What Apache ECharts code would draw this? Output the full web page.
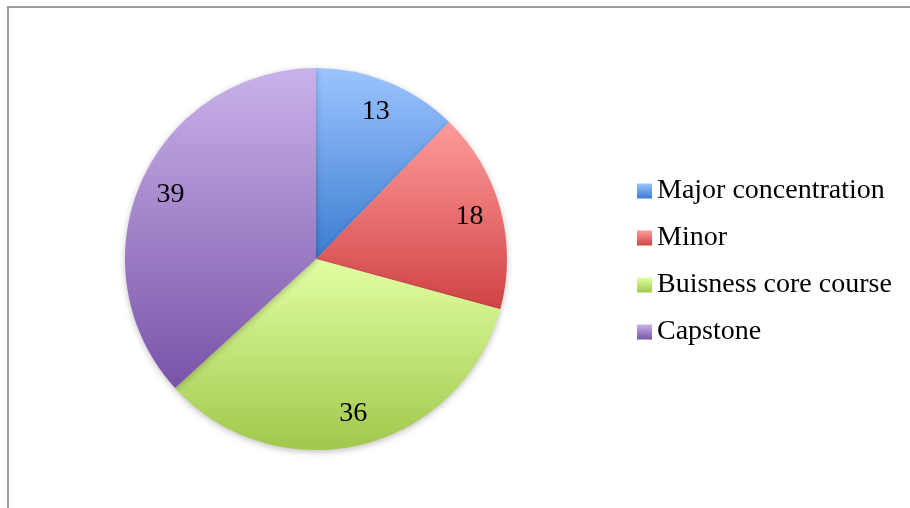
<!DOCTYPE html>
<html>
<head>
<meta charset="utf-8">
<script src="https://cdn.jsdelivr.net/npm/echarts@6/dist/echarts.min.js"></script>
<style>
  html, body { margin: 0; padding: 0; background: #fff; }
  #frame { position: absolute; left: 7px; top: 6px; width: 903px; height: 502px;
           border-left: 2px solid #9c9c9c; border-top: 2px solid #9c9c9c; }
  #main { position: absolute; left: 0; top: 0; width: 910px; height: 508px; }
</style>
</head>
<body>
<div id="frame"></div>
<div id="main"></div>
<script>
// data
var categories = ['Major concentration', 'Minor', 'Buisness core course', 'Capstone'];
var values = [13, 18, 36, 39];
// light (top) / dark (bottom) of each slice
var topColors = ['#9cc4ff', '#ff9b9b', '#e2ffa3', '#c9b2ea'];
var bottomColors = ['#3b7cd0', '#d04343', '#a0c84c', '#7a53a8'];

var myChart = echarts.init(document.getElementById('main'));
var font = '"Liberation Serif", "DejaVu Serif", serif';

function gradient(i) {
    // vertical gradient over each slice's own box, like the office charts do
    return new echarts.graphic.LinearGradient(0, 0, 0, 1, [
        { offset: 0, color: topColors[i] },
        { offset: 1, color: bottomColors[i] }
    ]);
}

var pieData = categories.map(function (name, i) {
    return { name: name, value: values[i], itemStyle: { color: gradient(i) } };
});
// same values, only used to put the numbers near the rim
var labelData = categories.map(function (name, i) {
    return { name: name, value: values[i] };
});

var option = {
    animation: false,
    legend: {
        orient: 'vertical',
        left: 632,
        top: 172,
        itemWidth: 15,
        itemHeight: 15,
        itemGap: 19,
        icon: 'rect',
        data: categories,
        selectedMode: false,
        textStyle: { fontFamily: font, fontSize: 28, color: '#000', lineHeight: 28 }
    },
    series: [
        {
            name: 'courses',
            type: 'pie',
            center: [316, 259],
            radius: [0, 191],
            startAngle: 90,
            clockwise: true,
            silent: true,
            data: pieData,
            label: { show: false },
            labelLine: { show: false },
            itemStyle: {
                borderWidth: 0,
                shadowBlur: 6,
                shadowOffsetY: 2,
                shadowColor: 'rgba(0,0,0,0.25)'
            }
        },
        {
            name: 'labels',
            type: 'pie',
            center: [316, 259],
            radius: [121, 191],
            startAngle: 90,
            clockwise: true,
            silent: true,
            data: labelData,
            itemStyle: { color: 'rgba(0,0,0,0)' },
            label: {
                show: true,
                position: 'inside',
                formatter: '{c}',
                fontFamily: font,
                fontSize: 28,
                color: '#000'
            },
            labelLine: { show: false }
        }
    ]
};

myChart.setOption(option);
</script>
</body>
</html>
